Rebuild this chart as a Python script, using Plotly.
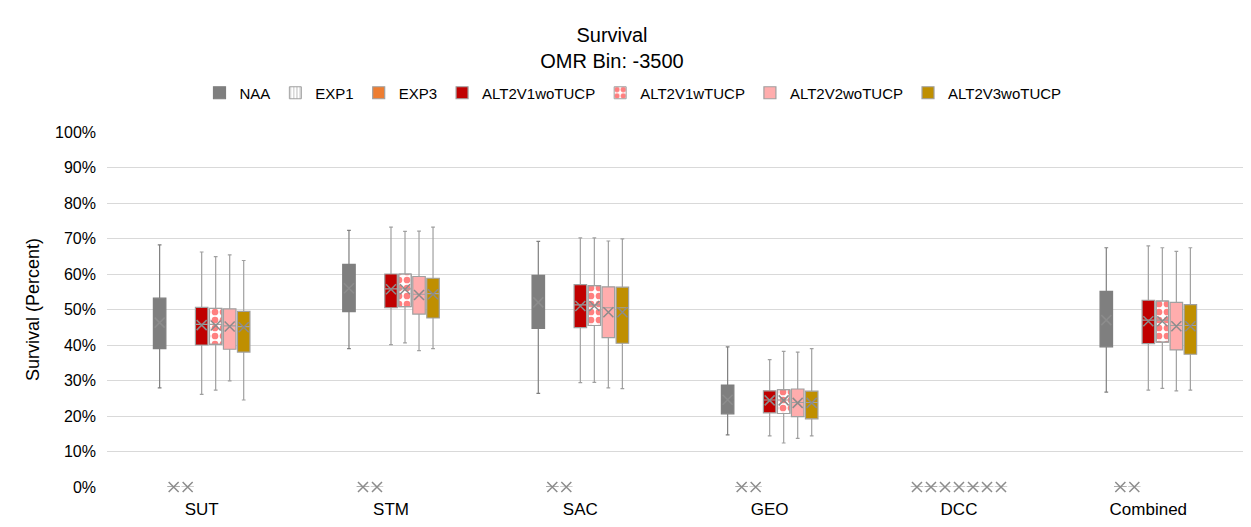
import plotly.graph_objects as go

categories = ["SUT", "STM", "SAC", "GEO", "DCC", "Combined"]
series_names = ["NAA", "EXP1", "EXP3", "ALT2V1woTUCP", "ALT2V1wTUCP", "ALT2V2woTUCP", "ALT2V3woTUCP"]

zeros = [0, 0, 0, 0, 0, 0]

naa_lo = [27.9, 39.0, 26.4, 14.7, 0, 26.7]
naa_q1 = [39.0, 49.4, 44.7, 20.6, 0, 39.5]
naa_med = [46.0, 56.0, 52.5, 24.5, 0, 47.5]
naa_q3 = [53.2, 62.7, 59.6, 28.7, 0, 55.1]
naa_hi = [68.2, 72.3, 69.2, 39.5, 0, 67.4]
naa_mean = [46.3, 56.0, 52.0, 24.6, 0, 47.0]

exp1_vals = zeros
exp3_vals = zeros

a1wo_lo = [26.1, 40.1, 29.4, 14.4, 0, 27.3]
a1wo_q1 = [40.0, 50.5, 44.9, 20.9, 0, 40.4]
a1wo_med = [45.8, 55.8, 51.3, 24.5, 0, 47.0]
a1wo_q3 = [50.6, 60.0, 57.0, 27.1, 0, 52.6]
a1wo_hi = [66.2, 73.2, 70.2, 35.9, 0, 67.9]
a1wo_mean = [45.6, 55.7, 51.0, 24.4, 0, 46.7]

a1w_lo = [27.3, 40.6, 29.5, 12.4, 0, 27.8]
a1w_q1 = [40.2, 50.8, 45.5, 20.7, 0, 40.8]
a1w_med = [45.8, 55.8, 51.3, 24.5, 0, 47.0]
a1w_q3 = [50.3, 60.0, 56.7, 27.4, 0, 52.4]
a1w_hi = [64.9, 72.0, 70.2, 38.2, 0, 67.4]
a1w_mean = [45.5, 55.7, 51.0, 24.4, 0, 46.7]

a2_lo = [29.9, 38.4, 27.9, 13.7, 0, 27.1]
a2_q1 = [38.8, 48.7, 42.1, 19.8, 0, 38.6]
a2_med = [45.4, 54.3, 50.5, 23.8, 0, 45.5]
a2_q3 = [50.2, 59.3, 56.4, 27.6, 0, 52.0]
a2_hi = [65.4, 72.1, 69.3, 38.0, 0, 66.4]
a2_mean = [45.2, 54.1, 49.2, 23.7, 0, 45.3]

a3_lo = [24.5, 39.0, 27.7, 14.4, 0, 27.3]
a3_q1 = [38.0, 47.6, 40.5, 19.2, 0, 37.4]
a3_med = [45.2, 54.5, 50.5, 23.8, 0, 45.5]
a3_q3 = [49.5, 58.8, 56.3, 27.0, 0, 51.4]
a3_hi = [63.8, 73.2, 69.9, 39.0, 0, 67.4]
a3_mean = [45.0, 54.3, 49.2, 23.7, 0, 45.3]

y_ticks = list(range(0, 101, 10))
y_tick_labels = [f"{v}%" for v in y_ticks]

FONT = "Liberation Sans"
SLOT = 0.074
BOXW = 0.066
GRID = "#d9d9d9"
MEANC = "#8c8c8c"

stats = {
    "NAA": (naa_lo, naa_q1, naa_med, naa_q3, naa_hi, naa_mean),
    "EXP1": (exp1_vals, exp1_vals, exp1_vals, exp1_vals, exp1_vals, exp1_vals),
    "EXP3": (exp3_vals, exp3_vals, exp3_vals, exp3_vals, exp3_vals, exp3_vals),
    "ALT2V1woTUCP": (a1wo_lo, a1wo_q1, a1wo_med, a1wo_q3, a1wo_hi, a1wo_mean),
    "ALT2V1wTUCP": (a1w_lo, a1w_q1, a1w_med, a1w_q3, a1w_hi, a1w_mean),
    "ALT2V2woTUCP": (a2_lo, a2_q1, a2_med, a2_q3, a2_hi, a2_mean),
    "ALT2V3woTUCP": (a3_lo, a3_q1, a3_med, a3_q3, a3_hi, a3_mean),
}
fills = {
    "NAA": "#7f7f7f",
    "EXP1": "#ffffff",
    "EXP3": "#ed7d31",
    "ALT2V1woTUCP": "#c00000",
    "ALT2V1wTUCP": "rgba(0,0,0,0)",
    "ALT2V2woTUCP": "#ffadad",
    "ALT2V3woTUCP": "#bf8f00",
}
lines = {
    "NAA": "#7f7f7f",
    "EXP1": "#a0a0a0",
    "EXP3": "#a0a0a0",
    "ALT2V1woTUCP": "#a0a0a0",
    "ALT2V1wTUCP": "#a0a0a0",
    "ALT2V2woTUCP": "#a0a0a0",
    "ALT2V3woTUCP": "#a0a0a0",
}

fig = go.Figure()
pos = list(range(len(categories)))

for i, name in enumerate(series_names):
    lo, q1, med, q3, hi, mean = stats[name]
    xs = [p + (i - 3) * SLOT for p in pos]
    show = True
    if name in ("EXP1", "ALT2V1wTUCP"):
        if name == "EXP1":
            pat = dict(shape="|", fgcolor="#808080", bgcolor="#ffffff", size=4, solidity=0.3)
        else:
            pat = dict(shape=".", fgcolor="#ff0000", bgcolor="#ffffff", size=8, solidity=0.55)
        fig.add_trace(go.Bar(
            x=xs, y=[b - a for a, b in zip(q1, q3)], base=q1, width=BOXW,
            name=name, marker=dict(color="#ffffff", pattern=pat,
                                    line=dict(color="#a0a0a0", width=1)),
            showlegend=True, hoverinfo="skip"))
        show = False
    fig.add_trace(go.Box(
        x=xs, q1=q1, median=med, q3=q3, lowerfence=lo, upperfence=hi,
        width=BOXW, whiskerwidth=0.3, name=name, showlegend=show,
        fillcolor=fills[name], line=dict(color=lines[name], width=1.2),
        boxpoints=False))

for i, name in enumerate(series_names):
    mean = stats[name][5]
    xs = [p + (i - 3) * SLOT for p in pos]
    fig.add_trace(go.Scatter(
        x=xs, y=mean, mode="markers", showlegend=False, hoverinfo="skip",
        cliponaxis=False,
        marker=dict(symbol="x-thin-open", size=10, color=MEANC,
                    line=dict(color=MEANC, width=1.5))))

# the page body has an 8px margin; figure coordinates are reference minus 8
W, H = 1243, 519
L, R, T, B = 99, 8, 124, 40

fig.update_layout(
    width=W, height=H,
    margin=dict(l=L, r=R, t=T, b=B),
    paper_bgcolor="white", plot_bgcolor="white",
    font=dict(family=FONT, color="#000000"),
    barmode="overlay",
    title=dict(text="Survival<br>OMR Bin: -3500", x=604 / W, xanchor="center",
               y=1 - 34 / H, yanchor="top", yref="container",
               font=dict(size=20, family=FONT, color="#000000")),
    legend=dict(orientation="h", xref="container", x=625 / W, xanchor="center",
                yref="container", y=1 - 85 / H, yanchor="middle",
                font=dict(size=15, family=FONT), itemwidth=30, tracegroupgap=0),
    xaxis=dict(range=[-0.5, len(categories) - 0.5], tickvals=pos, ticktext=categories,
               showgrid=False, zeroline=False, showline=False, ticks="",
               ticklabelstandoff=10,
               tickfont=dict(size=17, family=FONT)),
    yaxis=dict(range=[0, 100], tickvals=y_ticks, ticktext=y_tick_labels, showgrid=True,
               gridcolor=GRID, gridwidth=1, zeroline=False, showline=False,
               tickfont=dict(size=16, family=FONT), ticks="", ticklabelstandoff=10,
               title=dict(text="Survival (Percent)", font=dict(size=18, family=FONT),
                          standoff=10)),
)

fig.write_html("out.html")
